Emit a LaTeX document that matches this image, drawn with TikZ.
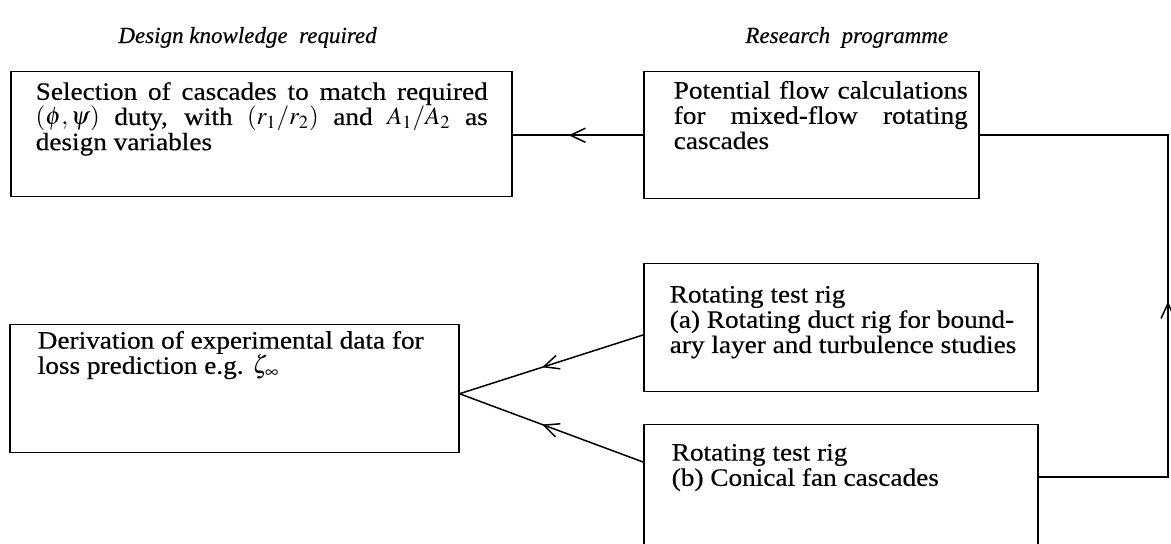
\documentclass[tikz,border=0pt]{standalone}
\usepackage{mathptmx}
\usepackage[no-math]{fontspec}
\setmainfont{Liberation Serif}[FakeStretch=1.09, FakeBold=0.4]
\newfontfamily\headfont{Liberation Serif}[FakeBold=0.4]
\usetikzlibrary{positioning, calc, arrows.meta, decorations.markings}
\hbadness=10000

% text of a block: width, height, left and right inset, top gap, text
\newcommand{\blocktext}[6]{%
  \parbox[c][#2][t]{#1}{\leftskip=#3\relax\rightskip=#4\relax
    \parindent=0pt\parfillskip=0pt plus 1fil\relax
    \lineskiplimit=-5pt\relax
    \vspace*{#5}\strut #6}}

\begin{document}
\begin{tikzpicture}[x=0.5pt, y=-0.5pt]
	% node styles
	\tikzstyle{block} = [draw, line width=0.75pt, rectangle, anchor=north west, inner sep=0pt, font=\fontsize{12.5pt}{12.6pt}\selectfont]
	\tikzstyle{heading} = [anchor=base west, inner sep=0pt, font=\headfont\fontsize{11.5pt}{12pt}\selectfont\itshape]
	\tikzstyle{link} = [line width=0.75pt]
	\tikzset{midarrow/.style={postaction={decorate}, decoration={markings, mark=at position #1 with {\arrow{Straight Barb[length=7.5pt, width=7pt]}}}}}
	
	\useasboundingbox (0,0) rectangle (1171,544);
	
	% headings
	\node[heading] (knowhead) at (118,43) {Design knowledge~\ required};
	\node[heading] (reshead) at (745,43) {Research~\ programme};
	
	% nodes
	\node[block] (select) at (10,71) {\blocktext{250.5pt}{62.5pt}{12.5pt}{12pt}{5.2pt}{Selection of cascades to match required\linebreak $(\phi,\psi)$ duty, with $(r_1/r_2)$ and $A_1/A_2$ as\linebreak design variables}};
	\node[block] (potential) at (643,71) {\blocktext{167.5pt}{63.5pt}{15pt}{5.5pt}{4.6pt}{Potential flow calculations\linebreak for mixed-flow rotating\linebreak cascades}};
	\node[block] (derive) at (9,324) {\blocktext{224.5pt}{64pt}{14pt}{5pt}{3.1pt}{Derivation of experimental data for\\ loss prediction e.g. $\zeta_\infty$}};
	\node[block] (ductrig) at (643,263) {\blocktext{197pt}{64pt}{13pt}{3pt}{10.6pt}{Rotating test rig\\ (a) Rotating duct rig for bound-\\ ary layer and turbulence studies}};
	\node[block] (fanrig) at (643,424) {\blocktext{197pt}{70pt}{14pt}{3pt}{9.1pt}{Rotating test rig\\ (b) Conical fan cascades}};
	
	% connectors
	\coordinate (corner) at (1168,0);
	\draw[link, midarrow=0.57] (potential.west) -- (potential.west -| select.east);
	\draw[link, midarrow=0.55] ([yshift=-36pt]ductrig.north west) -- ([yshift=-2.5pt]derive.east);
	\draw[link, midarrow=0.55] ([yshift=-19pt]fanrig.north west) -- ([yshift=-2.5pt]derive.east);
	\draw[link, midarrow=0.462] ([yshift=-26.5pt]fanrig.north east) -| (potential.east -| corner) -- (potential.east);
\end{tikzpicture}
\end{document}
